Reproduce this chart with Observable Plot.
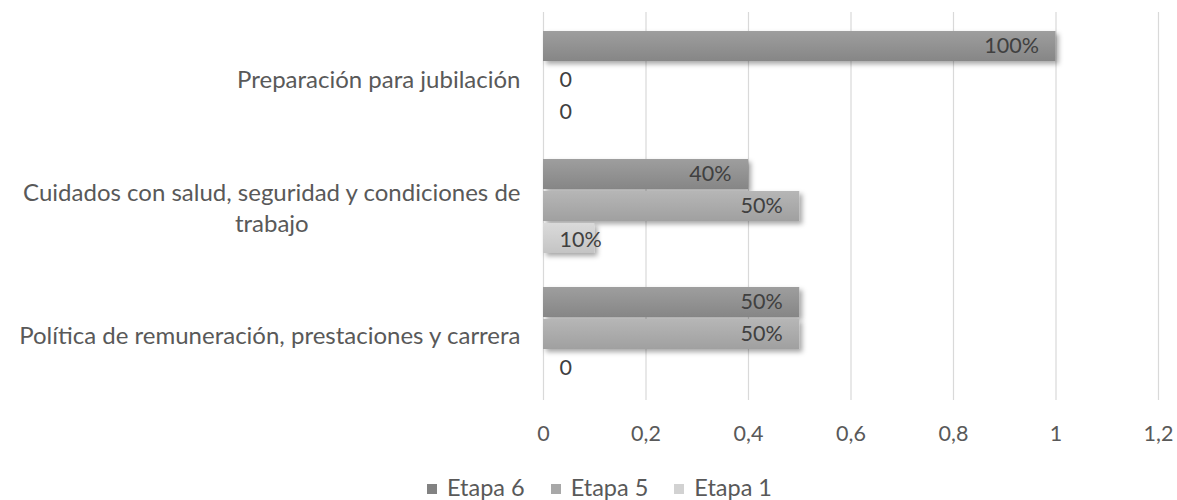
<!DOCTYPE html>
<html>
<head>
<meta charset="utf-8">
<script src="https://cdn.jsdelivr.net/npm/d3@7"></script>
<script src="https://cdn.jsdelivr.net/npm/@observablehq/plot@0.6"></script>
<style>
  html, body { margin: 0; padding: 0; background: #fff; }
  #wrap { width: 1177px; font-family: Lato, "Open Sans", sans-serif; color: #595959; }
  #legend { display: flex; justify-content: center; align-items: center; gap: 26px; font-size: 23.5px; height: 26px; margin-top: 12px; padding-left: 22px; }
  #legend .item { display: flex; align-items: center; gap: 10px; }
  #legend .sw { width: 10px; height: 10px; display: inline-block; margin-top: 4px; }
</style>
</head>
<body>
<div id="wrap">
  <div id="chart"></div>
  <div id="legend"></div>
</div>
<script>
const categories = [
  "Preparación para jubilación",
  "Cuidados con salud, seguridad y condiciones de trabajo",
  "Política de remuneración, prestaciones y carrera"
];
const categoryLabels = [
  "Preparación para jubilación",
  "Cuidados con salud, seguridad y condiciones de\ntrabajo",
  "Política de remuneración, prestaciones y carrera"
];
const series = ["Etapa 6", "Etapa 5", "Etapa 1"];
const etapa6 = [1, 0.4, 0.5];
const etapa5 = [0, 0.5, 0.5];
const etapa1 = [0, 0.1, 0];
const xTicks = [0, 0.2, 0.4, 0.6, 0.8, 1, 1.2];
const xTickLabels = ["0", "0,2", "0,4", "0,6", "0,8", "1", "1,2"];
const legendColors = ["#828282", "#a8a8a8", "#d2d2d2"];

const valuesBySeries = [etapa6, etapa5, etapa1];
const rows = [];
categories.forEach((c, i) => {
  series.forEach((s, j) => {
    rows.push({category: c, label: categoryLabels[i], series: s, value: valuesBySeries[j][i], key: c + "|" + s});
  });
});
const yDomain = categories.flatMap((c, i) => [
  ...series.map(s => c + "|" + s),
  ...(i < categories.length - 1 ? ["gap" + i] : [])
]);
const pct = d3.format(".0%");
const labelText = d => d.value === 0 ? "0" : pct(d.value);
const midRows = rows.filter(d => d.series === "Etapa 5");

const chart = Plot.plot({
  width: 1177,
  height: 462,
  marginLeft: 543,
  marginRight: 19,
  marginTop: 12,
  marginBottom: 62,
  style: {fontFamily: "Lato, 'Open Sans', sans-serif", fontSize: "21.5px", color: "#595959", background: "#fff"},
  x: {domain: [0, 1.2], ticks: xTicks, tickFormat: v => xTickLabels[xTicks.indexOf(v)] ?? "", tickSize: 0, tickPadding: 25, label: null},
  y: {domain: yDomain, axis: null, paddingInner: 0.07, paddingOuter: 0.535},
  color: {domain: series, range: ["url(#g6)", "url(#g5)", "url(#g1)"]},
  marks: [
    Plot.ruleX(xTicks, {stroke: "#d9d9d9", strokeWidth: 1.2}),
    Plot.barX(rows.filter(d => d.value > 0), {x: "value", y: "key", fill: "series"}),
    Plot.text(rows.filter(d => d.value >= 0.2), {x: "value", y: "key", text: labelText, textAnchor: "end", dx: -17, fill: "#404040", fontSize: 21.5}),
    Plot.text(rows.filter(d => d.value < 0.2), {x: d => 0, y: "key", text: labelText, textAnchor: "start", dx: 16, dy: 2, fill: "#404040", fontSize: 21.5}),
    Plot.text(midRows, {y: "key", text: "label", frameAnchor: "left", textAnchor: "end", dx: -23, fill: "#595959", fontSize: 24, lineHeight: 1.3})
  ]
});

// defs: gradients and shadow
const ns = "http://www.w3.org/2000/svg";
const defs = document.createElementNS(ns, "defs");
defs.innerHTML = `
  <linearGradient id="g6" x1="0" y1="0" x2="0" y2="1"><stop offset="0" stop-color="#9e9e9e"/><stop offset="1" stop-color="#868686"/></linearGradient>
  <linearGradient id="g5" x1="0" y1="0" x2="0" y2="1"><stop offset="0" stop-color="#b6b6b6"/><stop offset="1" stop-color="#a0a0a0"/></linearGradient>
  <linearGradient id="g1" x1="0" y1="0" x2="0" y2="1"><stop offset="0" stop-color="#dadada"/><stop offset="1" stop-color="#c4c4c4"/></linearGradient>
  <filter id="shadow" x="-20%" y="-40%" width="140%" height="200%"><feDropShadow dx="3" dy="3" stdDeviation="2.5" flood-color="#000" flood-opacity="0.35"/></filter>`;
chart.insertBefore(defs, chart.firstChild);
document.getElementById("chart").appendChild(chart);

chart.querySelectorAll("rect").forEach(r => {
  const f = r.getAttribute("fill") || "";
  if (f.startsWith("url(")) r.setAttribute("filter", "url(#shadow)");
});

// center the lines of each category label on the widest line (as in the original)
const firstLines = categoryLabels.map(l => l.split("\n")[0]);
chart.querySelectorAll("text").forEach(t => {
  const first = t.querySelector("tspan") ? t.querySelector("tspan").textContent : t.textContent;
  if (!firstLines.includes(first)) return;
  const b = t.getBBox();
  const cx = b.x + b.width / 2;
  t.setAttribute("text-anchor", "middle");
  t.style.textAnchor = "middle";
  const tspans = t.querySelectorAll("tspan");
  if (tspans.length) tspans.forEach(ts => ts.setAttribute("x", cx));
  else t.setAttribute("x", cx);
});

const legend = document.getElementById("legend");
series.forEach((s, i) => {
  const item = document.createElement("div");
  item.className = "item";
  const sw = document.createElement("span");
  sw.className = "sw";
  sw.style.background = legendColors[i];
  const tx = document.createElement("span");
  tx.textContent = s;
  item.appendChild(sw); item.appendChild(tx);
  legend.appendChild(item);
});
</script>
</body>
</html>
